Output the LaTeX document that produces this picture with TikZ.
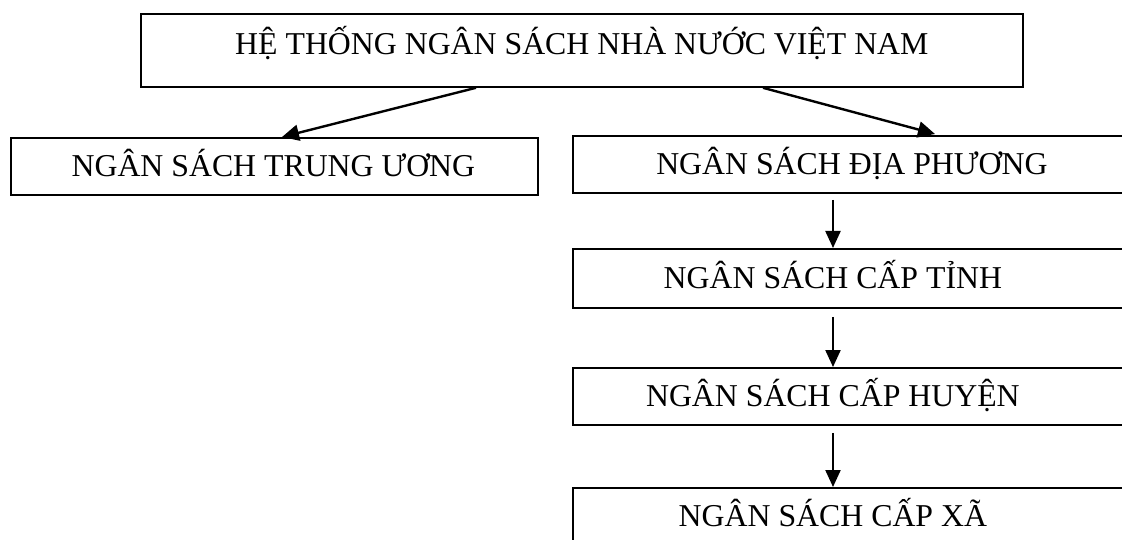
\documentclass[tikz,border=0pt]{standalone}
\usepackage{fontspec}
\setmainfont{Liberation Serif}
\usetikzlibrary{arrows.meta}
\begin{document}
\begin{tikzpicture}[x=1pt,y=-1pt,
  box/.style={draw=black, line width=1.8pt, rectangle, inner sep=0pt},
  lbl/.style={font=\fontsize{31.8pt}{38pt}\selectfont, inner sep=0pt, text height=21pt, text depth=0pt},
  arr/.style={line width=2.4pt, -{Triangle[length=17pt,width=16pt]}},
  varr/.style={line width=2.2pt, -{Triangle[length=17pt,width=15pt]}}]
\useasboundingbox (0,0) rectangle (1122,540);
\clip (0,0) rectangle (1122,540);
% top box
\node[box, anchor=north west, minimum width=882pt, minimum height=73pt,
  label={[lbl, yshift=6pt]center:HỆ THỐNG NGÂN SÁCH NHÀ NƯỚC VIỆT NAM}] (top) at (140,13) {};
% left box
\node[box, anchor=north west, minimum width=527pt, minimum height=57pt,
  label={[lbl, xshift=-1pt]center:NGÂN SÁCH TRUNG ƯƠNG}] (tw) at (10,137) {};
% right column
\node[box, anchor=north west, minimum width=570pt, minimum height=57pt,
  label={[lbl, xshift=-6pt]center:NGÂN SÁCH ĐỊA PHƯƠNG}] (dp) at (572,135) {};
\node[box, anchor=north west, minimum width=570pt, minimum height=59pt,
  label={[lbl, xshift=-25pt]center:NGÂN SÁCH CẤP TỈNH}] (tinh) at (572,248) {};
\node[box, anchor=north west, minimum width=570pt, minimum height=57pt,
  label={[lbl, xshift=-25pt]center:NGÂN SÁCH CẤP HUYỆN}] (huyen) at (572,367) {};
\node[box, anchor=north west, minimum width=570pt, minimum height=57pt,
  label={[lbl, xshift=-25pt]center:NGÂN SÁCH CẤP XÃ}] (xa) at (572,487) {};
% connectors
\draw[arr] ([xshift=336pt]top.south west) -- ([xshift=272pt]tw.north west);
\draw[arr] ([xshift=623pt]top.south west) -- ([shift={(363pt,1pt)}]dp.north west);
\draw[varr] ([shift={(261pt,-6pt)}]dp.south west) -- ([xshift=261pt]tinh.north west);
\draw[varr] ([shift={(261pt,-8pt)}]tinh.south west) -- ([xshift=261pt]huyen.north west);
\draw[varr] ([shift={(261pt,-7pt)}]huyen.south west) -- ([xshift=261pt]xa.north west);
\end{tikzpicture}
\end{document}
